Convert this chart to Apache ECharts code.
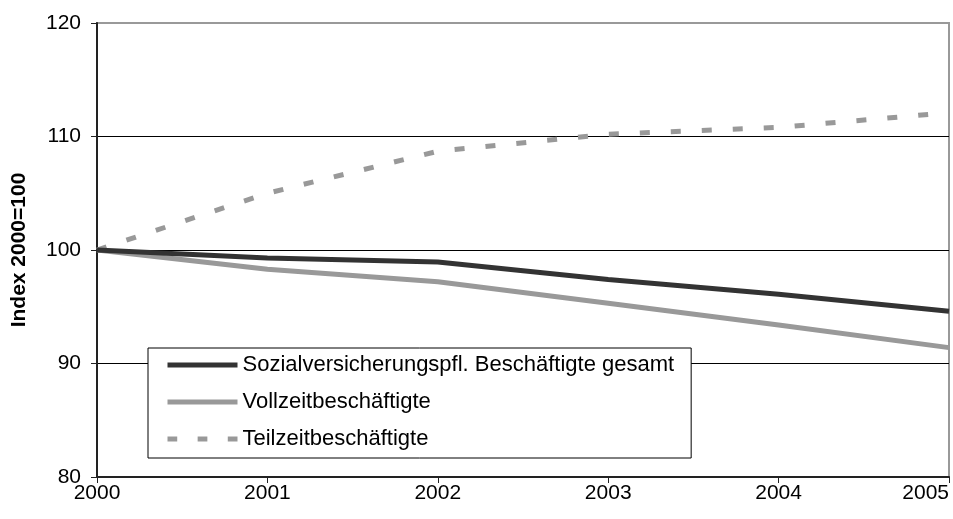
<!DOCTYPE html>
<html>
<head>
<meta charset="utf-8">
<script src="https://cdn.jsdelivr.net/npm/echarts@6/dist/echarts.min.js"></script>
<style>
  html, body { margin: 0; padding: 0; background: #fff; }
  #chart { width: 953px; height: 519px; }
</style>
</head>
<body>
<div id="chart"></div>
<script>
  var years = ['2000', '2001', '2002', '2003', '2004', '2005'];
  var gesamt = [100, 99.3, 98.95, 97.4, 96.1, 94.6];
  var vollzeit = [100, 98.3, 97.2, 95.3, 93.4, 91.4];
  var teilzeit = [100, 105.0, 108.7, 110.2, 110.8, 112.1];
  var seriesNames = [
    'Sozialversicherungspfl. Beschäftigte gesamt',
    'Vollzeitbeschäftigte',
    'Teilzeitbeschäftigte'
  ];

  var font = 'Liberation Sans, Arial, sans-serif';
  var dash = [10, 21];
  // three short dashes for the legend sample of the dashed series
  var dashIcon = 'path://M0,0h10v5h-10z M31,0h10v5h-10z M62,0h10v5h-10z';
  var chartDom = document.getElementById('chart');
  var myChart = echarts.init(chartDom);
  var option;
  option = {
    animation: false,
    backgroundColor: '#fff',
    grid: {
      left: 97,
      right: 4,
      top: 23,
      bottom: 42,
      outerBoundsMode: 'none',
      containLabel: false,
      show: true,
      borderColor: '#999',
      borderWidth: 2
    },
    legend: {
      orient: 'vertical',
      left: 148,
      top: 348,
      padding: [6, 17, 8, 17],
      itemWidth: 70,
      itemHeight: 20,
      itemGap: 15,
      backgroundColor: '#fff',
      borderColor: '#000',
      borderWidth: 1,
      borderRadius: 0,
      itemStyle: { opacity: 0 },
      lineStyle: { width: 5 },
      textStyle: { fontFamily: font, fontSize: 22, color: '#000', lineHeight: 22 },
      data: [
        { name: seriesNames[0] },
        { name: seriesNames[1] },
        { name: seriesNames[2], icon: dashIcon, itemStyle: { opacity: 1, color: '#999', borderWidth: 0 } }
      ]
    },
    xAxis: {
      type: 'category',
      boundaryGap: false,
      data: years,
      axisLine: { lineStyle: { color: '#222', width: 2 } },
      axisTick: { show: true, length: 6, lineStyle: { color: '#222' } },
      axisLabel: { fontFamily: font, fontSize: 21, color: '#000', margin: 6, alignMaxLabel: 'right' },
      splitLine: { show: false }
    },
    yAxis: {
      type: 'value',
      min: 80,
      max: 120,
      interval: 10,
      name: 'Index 2000=100',
      nameLocation: 'middle',
      nameRotate: 90,
      nameGap: 67,
      nameTextStyle: { fontFamily: font, fontSize: 21, fontWeight: 'bold', color: '#000' },
      axisLine: { show: true, lineStyle: { color: '#222', width: 2 } },
      axisTick: { show: true, length: 6, lineStyle: { color: '#222' } },
      axisLabel: { fontFamily: font, fontSize: 21, color: '#000', margin: 16 },
      splitLine: {
        show: true,
        lineStyle: { color: ['#000', '#000', '#000', '#000', '#999'], width: 1 }
      }
    },
    series: [
      {
        name: seriesNames[0],
        type: 'line',
        data: gesamt,
        symbol: 'none',
        lineStyle: { color: '#333', width: 5 },
        itemStyle: { color: '#333' },
        z: 3
      },
      {
        name: seriesNames[1],
        type: 'line',
        data: vollzeit,
        symbol: 'none',
        lineStyle: { color: '#999', width: 5 },
        itemStyle: { color: '#999' },
        z: 2
      },
      {
        name: seriesNames[2],
        type: 'line',
        data: teilzeit,
        symbol: 'none',
        lineStyle: { color: '#999', width: 5, type: dash },
        itemStyle: { color: '#999' },
        z: 2
      }
    ]
  };

  option && myChart.setOption(option);
</script>
</body>
</html>
